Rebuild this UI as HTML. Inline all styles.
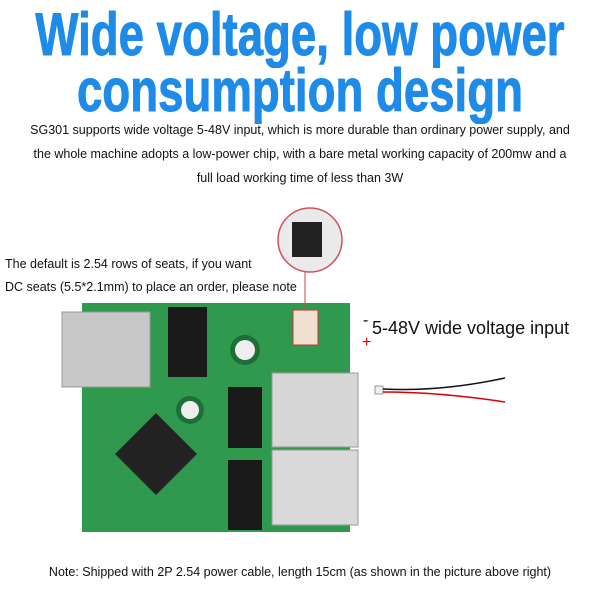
<!DOCTYPE html>
<html><head><style>
body{margin:0;width:600px;height:600px;background:#fff;position:relative;overflow:hidden;font-family:"Liberation Sans",sans-serif}
.h{position:absolute;left:-100px;width:800px;text-align:center;color:#1f8be8;font-weight:bold;font-size:60px;line-height:58px;transform:scaleX(0.76);white-space:nowrap;-webkit-text-stroke:1px #1f8be8}
.p{position:absolute;left:0;width:600px;text-align:center;font-size:12.5px;color:#111;line-height:24px}
.t{position:absolute;font-size:12.5px;color:#111;white-space:nowrap}
</style></head><body>
<div class="h" style="top:6px">Wide voltage, low power</div>
<div class="h" style="top:62px">consumption design</div>
<div class="p" style="top:118px">SG301 supports wide voltage 5-48V input, which is more durable than ordinary power supply, and<br>the whole machine adopts a low-power chip, with a bare metal working capacity of 200mw and a<br>full load working time of less than 3W</div>
<div class="t" style="left:5px;top:257px">The default is 2.54 rows of seats, if you want</div>
<div class="t" style="left:5px;top:280px">DC seats (5.5*2.1mm) to place an order, please note</div>
<div class="t" style="left:372px;top:318px;font-size:18px">5-48V wide voltage input</div>
<div class="t" style="left:0;width:600px;text-align:center;top:565px">Note: Shipped with 2P 2.54 power cable, length 15cm (as shown in the picture above right)</div>
<svg width="600" height="600" style="position:absolute;left:0;top:0">
<rect x="82" y="303" width="268" height="229" fill="#2f9a4e"/>
<rect x="62" y="312" width="88" height="75" fill="#c8c8c8" stroke="#999"/>
<rect x="272" y="373" width="86" height="74" fill="#d6d6d6" stroke="#999"/>
<rect x="272" y="450" width="86" height="75" fill="#d9d9d9" stroke="#999"/>
<rect x="168" y="307" width="39" height="70" fill="#1a1a1a"/>
<rect x="228" y="387" width="34" height="61" fill="#1a1a1a"/>
<rect x="228" y="460" width="34" height="70" fill="#1a1a1a"/>
<rect x="127" y="425" width="58" height="58" fill="#222" transform="rotate(45 156 454) "/>
<circle cx="245" cy="350" r="15" fill="#1e6e3a"/><circle cx="245" cy="350" r="10" fill="#eee"/>
<circle cx="190" cy="410" r="14" fill="#1e6e3a"/><circle cx="190" cy="410" r="9" fill="#eee"/>
<rect x="293" y="310" width="25" height="35" fill="#f0e0d0" stroke="#c33"/>
<line x1="305" y1="272" x2="305" y2="310" stroke="#c44"/>
<circle cx="310" cy="240" r="32" fill="#eaeaea" stroke="#d05060" stroke-width="1.5"/>
<rect x="292" y="222" width="30" height="35" fill="#222"/>
<text x="363" y="325" font-size="16" fill="#000">-</text>
<text x="362" y="347" font-size="16" fill="#d00">+</text>
<rect x="375" y="386" width="8" height="8" fill="#eee" stroke="#999"/>
<path d="M383 389 Q440 392 505 378" stroke="#111" fill="none" stroke-width="1.5"/>
<path d="M383 392 Q440 392 505 402" stroke="#d00" fill="none" stroke-width="1.5"/>
</svg>
</body></html>
